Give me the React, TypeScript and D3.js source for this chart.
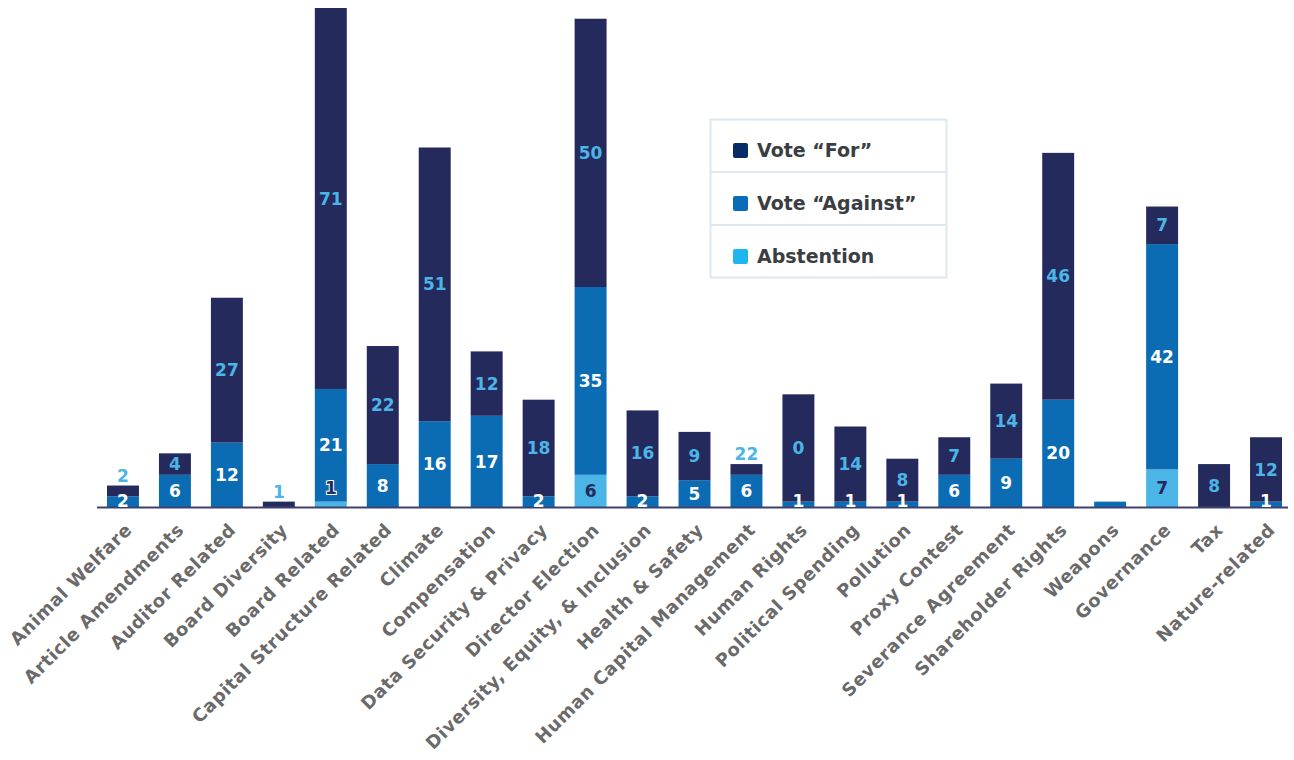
import React from "react";
import * as d3 from "d3";

const categories = [
  "Animal Welfare",
  "Article Amendments",
  "Auditor Related",
  "Board Diversity",
  "Board Related",
  "Capital Structure Related",
  "Climate",
  "Compensation",
  "Data Security & Privacy",
  "Director Election",
  "Diversity, Equity, & Inclusion",
  "Health & Safety",
  "Human Capital Management",
  "Human Rights",
  "Political Spending",
  "Pollution",
  "Proxy Contest",
  "Severance Agreement",
  "Shareholder Rights",
  "Weapons",
  "Governance",
  "Tax",
  "Nature-related",
];

// bar segment values
const forValues = [2, 4, 27, 1, 71, 22, 51, 12, 18, 50, 16, 9, 2, 20, 14, 8, 7, 14, 46, 0, 7, 8, 12];
const againstValues = [2, 6, 12, 0, 21, 8, 16, 17, 2, 35, 2, 5, 6, 1, 1, 1, 6, 9, 20, 1, 42, 0, 1];
const abstainValues = [0, 0, 0, 0, 1, 0, 0, 0, 0, 6, 0, 0, 0, 0, 0, 0, 0, 0, 0, 0, 7, 0, 0];

// data labels as printed on the chart
const forLabels = ["2", "4", "27", "1", "71", "22", "51", "12", "18", "50", "16", "9", "22", "0", "14", "8", "7", "14", "46", "", "7", "8", "12"];
const againstLabels = ["2", "6", "12", "", "21", "8", "16", "17", "2", "35", "2", "5", "6", "1", "1", "1", "6", "9", "20", "", "42", "", "1"];
const abstainLabels = ["", "", "", "", "1", "", "", "", "", "6", "", "", "", "", "", "", "", "", "", "", "7", "", ""];

const seriesKeys = ["abstain", "against", "for"];
const legendItems = ["Vote \u201cFor\u201d", "Vote \u201cAgainst\u201d", "Abstention"];

const W = 1294;
const H = 760;
const baseY = 507;
const FONT = "'DejaVu Sans', Inter, sans-serif";

const barColors: Record<string, string> = {
  for: "#242a5b",
  against: "#0b6cb4",
  abstain: "#4ab5e6",
};
const legendColors = ["#062b66", "#0a6cb8", "#1fb6f0"];

export default function App() {
  const rows = categories.map((c, i) => ({
    cat: c,
    abstain: abstainValues[i],
    against: againstValues[i],
    for: forValues[i],
  }));
  const stacked = d3.stack<any>().keys(seriesKeys)(rows);

  const x = d3
    .scaleBand<string>()
    .domain(categories)
    .range([97, 1292])
    .paddingInner(0.385)
    .paddingOuter(0.1925);
  const y = d3.scaleLinear().domain([0, 93]).range([baseY, 8]);

  const labelsByKey: Record<string, string[]> = {
    for: forLabels,
    against: againstLabels,
    abstain: abstainLabels,
  };

  const labelEls: React.ReactNode[] = [];
  stacked.forEach((s) => {
    const key = s.key;
    s.forEach((d, i) => {
      const txt = labelsByKey[key][i];
      if (!txt) return;
      const top = y(d[1]);
      const bot = y(d[0]);
      const h = bot - top;
      const cx = (x(categories[i]) as number) + x.bandwidth() / 2;
      let cy = (top + bot) / 2;
      let fill = "#fff";
      let stroke: string | undefined;
      if (key === "for") {
        fill = "#4ab5e6";
        if (h < 16) cy = top - 10;
      } else if (key === "against") {
        fill = "#ffffff";
        cy = Math.min(cy, baseY - 6);
      } else {
        fill = "#242a5b";
        if (h < 16) {
          cy = top - 14;
          stroke = "#ffffff";
        }
      }
      labelEls.push(
        <text
          key={key + i}
          x={cx}
          y={cy}
          dy="0.36em"
          textAnchor="middle"
          fontFamily={FONT}
          fontWeight={700}
          fontSize={17}
          fill={fill}
          stroke={stroke}
          strokeWidth={stroke ? 2 : 0}
          style={{ paintOrder: "stroke" } as any}
        >
          {txt}
        </text>
      );
    });
  });

  return (
    <svg
      width={W}
      height={H}
      style={{ position: "absolute", left: 0, top: 0, background: "#fff" }}
    >
      {stacked.map((s) =>
        s.map((d, i) => {
          const h = y(d[0]) - y(d[1]);
          if (h <= 0) return null;
          return (
            <rect
              key={s.key + i}
              x={x(categories[i])}
              y={y(d[1])}
              width={x.bandwidth()}
              height={h}
              fill={barColors[s.key]}
            />
          );
        })
      )}
      <line x1={97} x2={1288} y1={baseY + 0.5} y2={baseY + 0.5} stroke="#3b4170" strokeWidth={2} />
      {labelEls}
      {categories.map((c) => {
        const cx = (x(c) as number) + x.bandwidth() / 2;
        return (
          <text
            key={c}
            transform={`translate(${cx + 10},${baseY + 24}) rotate(-45)`}
            textAnchor="end"
            fontFamily={FONT}
            fontWeight={700}
            fontSize={18}
            letterSpacing={0.6}
            fill="#6a6a6a"
          >
            {c}
          </text>
        );
      })}
      <g>
        <rect x={710.5} y={119.5} width={236} height={158} fill="#fff" stroke="#dde8f0" strokeWidth={2} />
        <line x1={711} x2={946} y1={172} y2={172} stroke="#dde8f0" strokeWidth={2} />
        <line x1={711} x2={946} y1={225} y2={225} stroke="#dde8f0" strokeWidth={2} />
        {legendItems.map((t, i) => {
          const cy = 150 + i * 53;
          return (
            <g key={t}>
              <rect x={733} y={cy - 7} width={15} height={15} rx={2} fill={legendColors[i]} />
              <text
                x={757}
                y={cy}
                dy="0.36em"
                fontFamily={FONT}
                fontWeight={700}
                fontSize={19}
                fill="#3a3e42"
              >
                {t}
              </text>
            </g>
          );
        })}
      </g>
    </svg>
  );
}
